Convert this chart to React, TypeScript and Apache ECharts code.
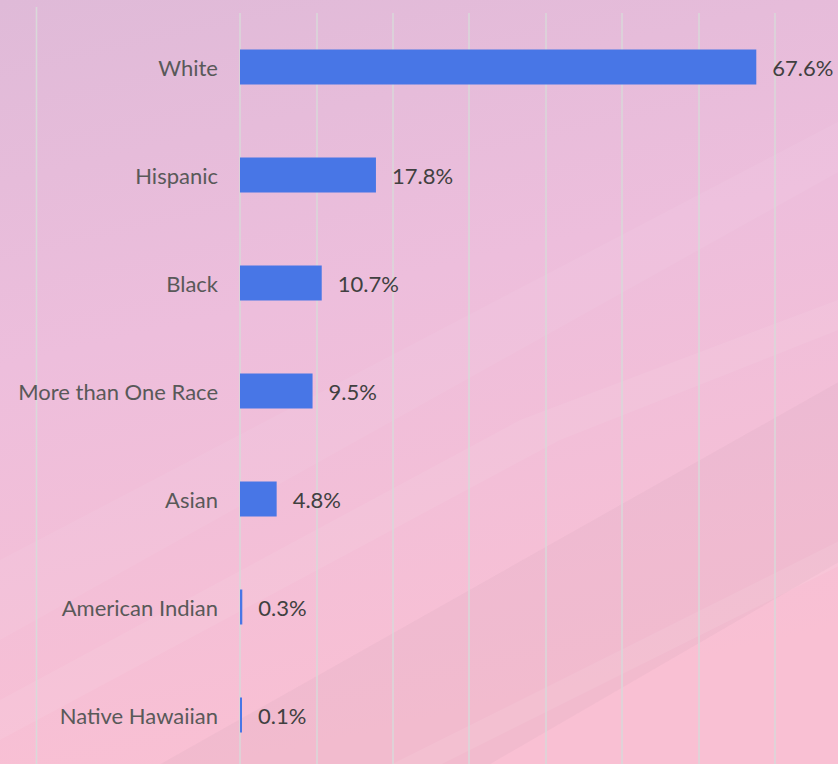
import React, { useEffect, useRef } from "react";
import * as echarts from "echarts";

const categories = [
  "White",
  "Hispanic",
  "Black",
  "More than One Race",
  "Asian",
  "American Indian",
  "Native Hawaiian",
];
const values = [67.6, 17.8, 10.7, 9.5, 4.8, 0.3, 0.1];
const axisMin = 0;
const axisMax = 80;
const axisInterval = 10;

export default function App() {
  const ref = useRef<HTMLDivElement>(null);

  useEffect(() => {
    if (!ref.current) return;
    const chart = echarts.init(ref.current, undefined, { renderer: "svg" });
    const font = "Lato, 'Open Sans', sans-serif";
    chart.setOption({
      animation: false,
      backgroundColor: {
        type: "linear",
        x: 0,
        y: 0,
        x2: 0.25,
        y2: 1,
        colorStops: [
          { offset: 0, color: "#dfbad8" },
          { offset: 0.45, color: "#edbedc" },
          { offset: 1, color: "#f9c0d3" },
        ],
      },
      graphic: [
        {
          type: "polygon",
          silent: true,
          z: -10,
          shape: { points: [[0, 560], [851, 115], [851, 165], [0, 640]] },
          style: { fill: "rgba(255,255,255,0.06)" },
        },
        {
          type: "polygon",
          silent: true,
          z: -10,
          shape: { points: [[150, 770], [851, 375], [851, 555], [480, 770]] },
          style: { fill: "rgba(190,150,170,0.10)" },
        },
        {
          type: "polygon",
          silent: true,
          z: -10,
          shape: { points: [[0, 700], [520, 420], [851, 295], [851, 325], [560, 440], [0, 740]] },
          style: { fill: "rgba(255,255,255,0.07)" },
        },
        {
          type: "polygon",
          silent: true,
          z: -10,
          shape: { points: [[380, 770], [851, 535], [851, 560], [430, 770]] },
          style: { fill: "rgba(255,255,255,0.08)" },
        },
        {
          type: "line",
          silent: true,
          shape: { x1: 36.5, y1: 7, x2: 36.5, y2: 770 },
          style: { stroke: "#d9d9d9", lineWidth: 1.5 },
        },
      ],
      grid: { left: 240, top: 13, right: 0, bottom: 0, containLabel: false },
      xAxis: {
        type: "value",
        min: axisMin,
        max: axisMax,
        interval: axisInterval,
        axisLabel: { show: false },
        axisLine: { show: false },
        axisTick: { show: false },
        splitLine: { show: true, lineStyle: { color: "#d9d9d9", width: 1.5 } },
      },
      yAxis: {
        type: "category",
        data: categories,
        inverse: true,
        axisLine: { show: false },
        axisTick: { show: false },
        axisLabel: {
          color: "#595959",
          fontFamily: font,
          fontSize: 22,
          margin: 22,
        },
      },
      series: [
        {
          type: "bar",
          data: values,
          barWidth: 35,
          barMinHeight: 2,
          itemStyle: { color: "#4876e6" },
          label: {
            show: true,
            position: "right",
            distance: 16,
            color: "#404040",
            fontFamily: font,
            fontSize: 22,
            formatter: (p: any) => Number(p.value).toFixed(1) + "%",
          },
        },
      ],
    });
    return () => chart.dispose();
  }, []);

  return (
    <div
      ref={ref}
      style={{ position: "fixed", left: 0, top: 0, width: 851, height: 769 }}
    />
  );
}
